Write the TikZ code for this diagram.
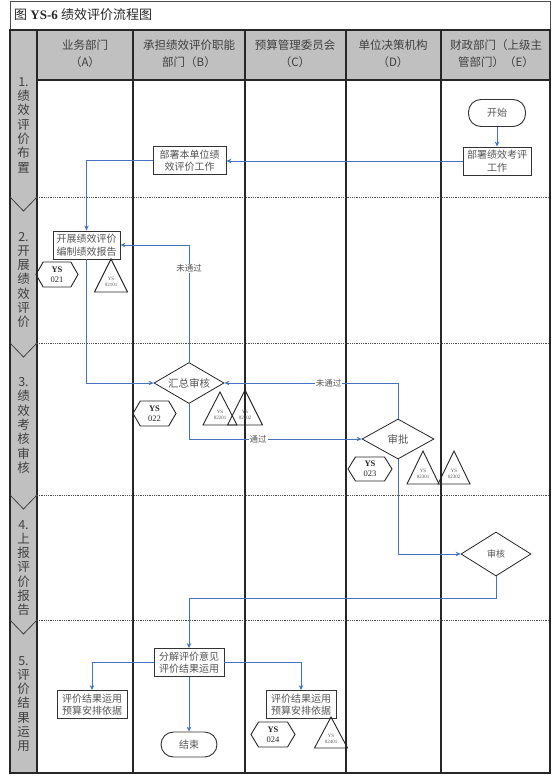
\documentclass[tikz,border=0pt]{standalone}
\usepackage{fontspec}
\setmainfont{Liberation Serif}
\newfontfamily\cjk{Noto Sans CJK SC}
\usetikzlibrary{arrows.meta,shapes.geometric,calc}
\definecolor{flowc}{RGB}{68,114,196}
\definecolor{hdr}{RGB}{192,192,192}
\definecolor{txt}{RGB}{85,85,85}
\newcommand\ystri[6]{%
  \draw[tri] (#2,#3) coordinate (#1) -- ++(-#4,#5) -- ++(2*#4,0) -- cycle;
  \node[tritext] (#1-t) at (#2,#3+0.7*#5) {#6};}
\newcommand\yshex[6]{%
  \node[hextext] (#1) at (#2,#3) {#6};
  \draw[hex] (#2-#4/2,#3) -- ++(0.17*#4,-#5/2) -- ++(0.66*#4,0) -- ++(0.17*#4,#5/2) -- ++(-0.17*#4,#5/2) -- ++(-0.66*#4,0) -- cycle;}
\begin{document}
\begin{tikzpicture}[x=1pt,y=-1pt,
  lane/.style={line width=1.3pt, draw=black!85},
  sepline/.style={densely dotted, line width=0.8pt, draw=black!70},
  box/.style={draw=black!80, line width=0.9pt, fill=white, text=txt, font=\cjk\fontsize{10}{12.5}\selectfont, align=center, inner sep=1pt, minimum width=70pt, minimum height=28pt},
  term/.style={draw=black!80, line width=0.9pt, fill=white, text=txt, font=\cjk\fontsize{10}{12}\selectfont, rounded corners=12.5pt, minimum width=57pt, minimum height=27pt, inner sep=1pt},
  dia/.style={diamond, draw=black!85, line width=0.8pt, fill=white, text=txt, font=\cjk\fontsize{10.5}{12}\selectfont, inner sep=0pt},
  flow/.style={draw=flowc, line width=1pt, -{Stealth[length=5pt,width=4.5pt]}},
  lbl/.style={fill=white, text=txt, font=\cjk\fontsize{8.5}{10}\selectfont, inner sep=1pt},
  tri/.style={draw=black!85, line width=0.9pt},
  tritext/.style={text=txt, font=\fontsize{5}{6}\selectfont, align=center, inner sep=0pt},
  hex/.style={draw=black!85, line width=0.9pt},
  hextext/.style={text=black!85, font=\fontsize{8.5}{10}\selectfont, align=center, inner sep=0pt},
  phase/.style={text=black!75, font=\cjk\fontsize{12.5}{14.3}\selectfont, align=center, inner sep=0pt},
  head/.style={text=black!75, font=\cjk\fontsize{11.5}{17}\selectfont, align=center, inner sep=0pt}]
\useasboundingbox (0,0) rectangle (553,784);
\fill[white] (0,0) rectangle (553,784);
% title
\draw[line width=0.6pt, black!70] (10,1) rectangle (550,30);
\node[anchor=west, text=black!85, font=\fontsize{13}{15}\selectfont, inner sep=0pt] (title) at (14,15) {{\cjk 图} \textbf{YS-6} {\cjk 绩效评价流程图}};
% header and phase column
\fill[hdr] (10,30) rectangle (550,80);
\fill[hdr] (10,30) rectangle (37,773);
\draw[lane] (37,80) -- (550,80);
\foreach \xx in {37,133,245,346,441} \draw[lane] (\xx,30) -- (\xx,773);
\draw[line width=1.3pt, black!85] (10,30) rectangle (550,773);
\foreach \yy in {197,343,495,620} {
  \draw[sepline] (37,\yy) -- (550,\yy);
  \draw[line width=0.8pt, black!75] (10,\yy) -- (23.5,\yy+14) -- (37,\yy);
}
% headers
\node[head] (hA) at (85,54) {业务部门\\（A）};
\node[head] (hB) at (189,54) {承担绩效评价职能\\部门（B）};
\node[head] (hC) at (295,54) {预算管理委员会\\（C）};
\node[head] (hD) at (393,54) {单位决策机构\\（D）};
\node[head] (hE) at (496,54) {财政部门（上级主\\管部门）（E）};
% phase labels
\node[phase] (p1) at (23.5,125) {1.\\绩\\效\\评\\价\\布\\置};
\node[phase] (p2) at (23.5,280) {2.\\开\\展\\绩\\效\\评\\价};
\node[phase] (p3) at (23.5,425.5) {3.\\绩\\效\\考\\核\\审\\核};
\node[phase] (p4) at (23.5,568) {4.\\上\\报\\评\\价\\报\\告};
\node[phase] (p5) at (23.5,704) {5.\\评\\价\\结\\果\\运\\用};
% nodes
\node[term] (start) at (497,113) {开始};
\node[box, minimum width=68pt] (a1) at (497,161) {部署绩效考评\\工作};
\node[box, minimum width=73pt] (b1) at (189.5,160.5) {部署本单位绩\\效评价工作};
\node[box, minimum width=67pt] (kz) at (86.5,245) {开展绩效评价\\编制绩效报告};
\node[dia, aspect=1.7, minimum width=70pt, minimum height=41pt] (hz) at (189,383) {汇总审核};
\node[dia, aspect=1.8, minimum width=72pt, minimum height=40pt] (sp) at (398,439) {审批};
\node[dia, aspect=1.6, minimum width=70pt, minimum height=44pt, font=\cjk\fontsize{9}{11}\selectfont] (sh) at (496,554) {审核};
\node[box] (fj) at (189,662.5) {分解评价意见\\评价结果运用};
\node[box] (ya) at (92,704.5) {评价结果运用\\预算安排依据};
\node[box] (yc) at (301,704.5) {评价结果运用\\预算安排依据};
\node[term, minimum width=56pt, minimum height=25pt] (end) at (189,744.5) {结束};
% connectors
\draw[flow] (start) -- (a1);
\draw[flow] (a1.west) -- (b1.east |- a1.west);
\draw[flow] (b1.west) -| (kz.north);
\draw[flow] (hz.north) |- node[pos=0.4, lbl] (l1) {未通过} (kz.east);
\draw[flow] (kz.south) |- (hz.west);
\draw[flow] (sp.north) |- node[pos=0.7, lbl] (l2) {未通过} (hz.east);
\draw[flow] (hz.south) |- node[pos=0.7, lbl] (l3) {通过} (sp.west);
\draw[flow] (sp.south) |- (sh.west);
\coordinate (c1) at (496,598);
\draw[flow] (sh.south) -- (c1) -| (fj.north);
\draw[flow] (fj.west) -| (ya.north);
\draw[flow] (fj.east) -| (yc.north);
\draw[flow] (fj) -- (end);
% document markers
\ystri{t02101}{111}{259}{16.5}{33}{YS\\02101}
\ystri{t02201}{220}{392}{17}{33}{YS\\02201}
\ystri{t02202}{245}{390}{17.5}{35}{YS\\02202}
\ystri{t02301}{423}{451}{16}{33}{YS\\02301}
\ystri{t02302}{454}{451}{16}{33}{YS\\02302}
\ystri{t02401}{331}{717}{16.5}{31}{YS\\02401}
\yshex{h021}{57}{274.5}{42}{25}{\textbf{YS}\\021}
\yshex{h022}{154.5}{413.5}{43}{25}{\textbf{YS}\\022}
\yshex{h023}{370}{469}{44}{24}{\textbf{YS}\\023}
\yshex{h024}{273}{734.5}{44}{25}{\textbf{YS}\\024}
\end{tikzpicture}
\end{document}
